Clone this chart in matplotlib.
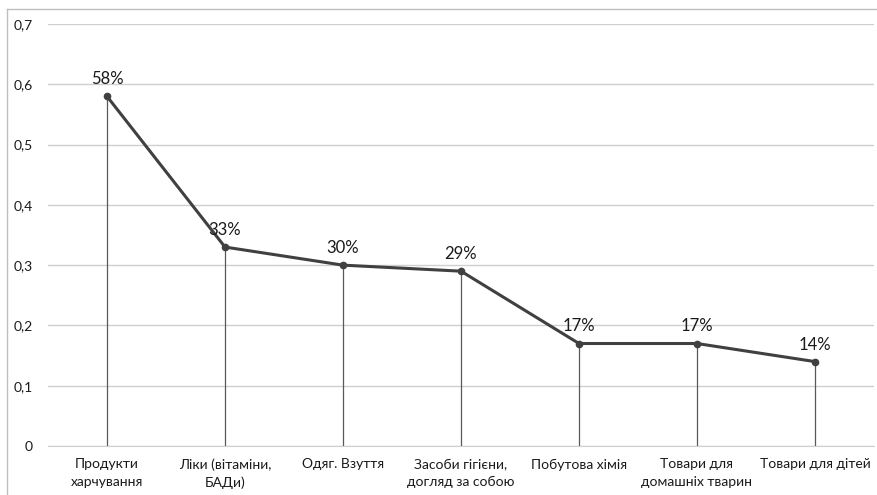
import matplotlib.pyplot as plt
from matplotlib.lines import Line2D
from matplotlib.ticker import FuncFormatter

categories = ['Продукти\nхарчування', 'Ліки (вітаміни,\nБАДи)', 'Одяг. Взуття',
              'Засоби гігієни,\nдогляд за собою', 'Побутова хімія',
              'Товари для\nдомашніх тварин', 'Товари для дітей']
values = [0.58, 0.33, 0.30, 0.29, 0.17, 0.17, 0.14]
labels = ['58%', '33%', '30%', '29%', '17%', '17%', '14%']
yticks = [0, 0.1, 0.2, 0.3, 0.4, 0.5, 0.6, 0.7]

plt.rcParams['font.family'] = ['Lato', 'DejaVu Sans']

fig = plt.figure(figsize=(8.77, 4.95), dpi=100)
ax = fig.add_axes([48 / 877, 1 - 446 / 495, (874 - 48) / 877, (446 - 24) / 495])

x = list(range(len(values)))
ax.vlines(x, 0, values, color='#595959', linewidth=0.9, zorder=2)
ax.plot(x, values, color='#404040', linewidth=2.2, marker='o', markersize=4.5, zorder=3)

for xi, v, lab in zip(x, values, labels):
    ax.annotate(lab, (xi, v), xytext=(0, 6.5), textcoords='offset points',
                ha='center', va='bottom', fontsize=12, color='#1a1a1a')

ax.set_xlim(-0.5, len(values) - 0.5)
ax.set_ylim(0, 0.7)
ax.set_yticks(yticks)
ax.yaxis.set_major_formatter(FuncFormatter(lambda v, p: ('%g' % round(v, 1)).replace('.', ',')))
ax.set_xticks(x)
ax.set_xticklabels(categories, fontsize=10, color='#1a1a1a', linespacing=1.5)
ax.tick_params(axis='both', length=0, labelsize=10, colors='#1a1a1a')
ax.tick_params(axis='y', pad=11)
ax.tick_params(axis='x', pad=9)
ax.grid(axis='y', color='#cfcfcf', linewidth=1)
ax.set_axisbelow(True)
for s in ['top', 'right', 'left']:
    ax.spines[s].set_visible(False)
ax.spines['bottom'].set_color('#cfcfcf')

# chart border (left and top edges visible)
fig.add_artist(Line2D([7 / 877, 7 / 877], [0, 1 - 9 / 495], color='#bfbfbf', linewidth=1))
fig.add_artist(Line2D([7 / 877, 1], [1 - 9 / 495, 1 - 9 / 495], color='#bfbfbf', linewidth=1))

fig.savefig('out.png', dpi=100)
